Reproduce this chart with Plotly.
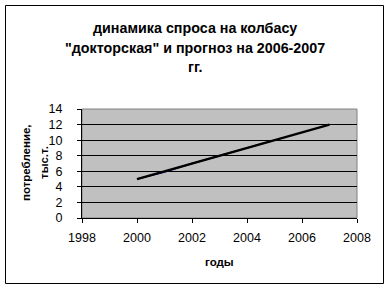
import plotly.graph_objects as go

# Data
years_actual = [2000, 2001, 2002, 2003, 2004, 2005]
consumption_actual = [5, 5.9, 7, 8, 9, 10]
years_trend = [2000, 2001, 2002, 2003, 2004, 2005, 2006, 2007]
consumption_trend = [5, 6, 7, 8, 9, 10, 11, 12]

title_lines = ['динамика спроса на колбасу', '"докторская" и прогноз на 2006-2007', 'гг.']
x_title = 'годы'
y_title_lines = ['потребление,', 'тыс.т.']

W, H = 389, 289
L, R, T, B = 82, 32, 109, 71
pw, ph = W - L - R, H - T - B

def px(x):
    return (x - L) / pw

def py(y):
    return (H - B - y) / ph

fig = go.Figure()
fig.add_trace(go.Scatter(x=years_actual, y=consumption_actual, mode='lines',
                         line=dict(color='#000080', width=1.5), showlegend=False))
fig.add_trace(go.Scatter(x=years_trend, y=consumption_trend, mode='lines',
                         line=dict(color='black', width=2.2), showlegend=False))

font = 'Liberation Sans, Arial, sans-serif'
ann = []
for txt, yy in zip(title_lines, [28, 48, 67]):
    ann.append(dict(text='<b>%s</b>' % txt, x=px(195), y=py(yy), xref='paper', yref='paper',
                    showarrow=False, xanchor='center', yanchor='middle',
                    font=dict(family=font, size=14.3, color='black')))
ann.append(dict(text='<b>%s</b>' % x_title, x=px(219), y=py(262), xref='paper', yref='paper',
                showarrow=False, xanchor='center', yanchor='middle',
                font=dict(family=font, size=11.5, color='black')))
for txt, xx in zip(y_title_lines, [26, 44]):
    ann.append(dict(text='<b>%s</b>' % txt, x=px(xx), y=py(163), xref='paper', yref='paper',
                    showarrow=False, xanchor='center', yanchor='middle', textangle=-90,
                    font=dict(family=font, size=11.5, color='black')))

shapes = [
    dict(type='rect', xref='paper', yref='paper', x0=px(5.5), x1=px(383.5), y0=py(283.5), y1=py(5.5),
         line=dict(color='black', width=1), layer='below'),
    dict(type='rect', xref='paper', yref='paper', x0=0, x1=1, y0=0, y1=1,
         line=dict(color='#808080', width=1), layer='below'),
]

fig.update_layout(
    width=W, height=H,
    margin=dict(l=L, r=R, t=T, b=B),
    paper_bgcolor='white', plot_bgcolor='#C0C0C0',
    annotations=ann, shapes=shapes,
    font=dict(family=font, size=12, color='black'),
    xaxis=dict(range=[1998, 2008], dtick=2, tick0=1998, showgrid=False, zeroline=False,
               showline=True, linecolor='black', linewidth=1,
               ticks='outside', ticklen=4, tickcolor='black', ticklabelstandoff=4,
               tickfont=dict(family=font, size=12.5, color='black')),
    yaxis=dict(range=[0, 14], dtick=2, showgrid=True, gridcolor='black', gridwidth=1,
               zeroline=False, showline=True, linecolor='black', linewidth=1,
               ticks='outside', ticklen=4, tickcolor='black', ticklabelstandoff=12,
               tickfont=dict(family=font, size=12.5, color='black')),
)

fig.write_html('out.html')
